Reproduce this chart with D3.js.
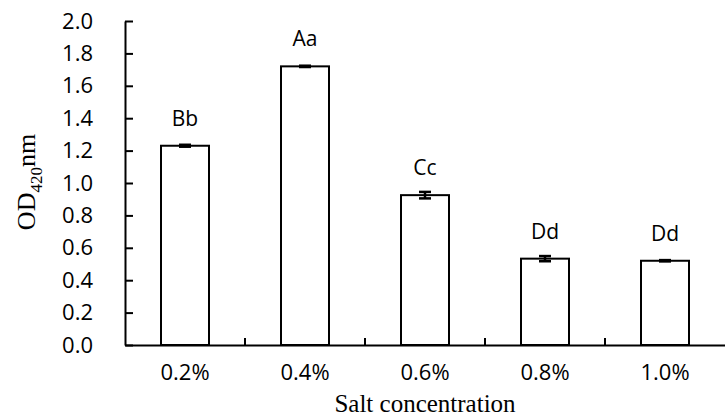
<!DOCTYPE html>
<head>
<meta charset="utf-8">
<title>OD420 by salt concentration</title>
<script src="https://cdn.jsdelivr.net/npm/d3@7/dist/d3.min.js"></script>
<style>
	body { margin: 0; background: #fff; }
	.domain, .tick line { stroke: #000; stroke-width: 2px; }
</style>
</head>
<body>
<script>
var width = 725;
var height = 420;
var margin = {top: 21, bottom: 75, left: 125, right: 0};

// data
var concentrations = ["0.2%", "0.4%", "0.6%", "0.8%", "1.0%"];
var odValues = [1.23, 1.72, 0.925, 0.533, 0.52];
var odErrors = [0.006, 0.004, 0.02, 0.016, 0.004];
var letters = ["Bb", "Aa", "Cc", "Dd", "Dd"];
var yTicks = [0, 0.2, 0.4, 0.6, 0.8, 1.0, 1.2, 1.4, 1.6, 1.8, 2.0];

var dataset = concentrations.map(function(c, i) {
	return {cat: c, val: odValues[i], err: odErrors[i], sig: letters[i]};
});

var svg = d3.select("body").append("svg")
	.attr("width", width)
	.attr("height", height);

var x = d3.scaleBand().domain(concentrations)
	.range([margin.left, width - margin.right])
	.paddingInner(0.6).paddingOuter(0.3);
var y = d3.scaleLinear().domain([0, 2]).range([height - margin.bottom, margin.top]);

// y axis, ticks pointing inward
var yAxis = svg.append("g")
	.attr("transform", "translate(" + margin.left + ",0)")
	.call(d3.axisLeft(y).tickValues(yTicks).tickSizeInner(-8).tickSizeOuter(0).tickPadding(32)
		.tickFormat(d3.format(".1f")));
yAxis.selectAll(".tick text")
	.style("font-family", "'Open Sans', sans-serif")
	.style("font-size", "22px")
	.attr("fill", "#000");

// x axis line with category labels
var xAxis = svg.append("g")
	.attr("transform", "translate(0," + y(0) + ")")
	.call(d3.axisBottom(x).tickSize(0).tickPadding(19));
xAxis.selectAll(".tick line").remove();
xAxis.selectAll(".tick text")
	.style("font-family", "'Open Sans', sans-serif")
	.style("font-size", "22px")
	.attr("fill", "#000");

// separator ticks between categories
var step = x.step();
var seps = concentrations.slice(1).map(function(c) { return x(c) - step * x.paddingInner() / 2; });
svg.selectAll(".sep").data(seps).enter().append("line")
	.attr("x1", function(d) { return d; })
	.attr("x2", function(d) { return d; })
	.attr("y1", y(0))
	.attr("y2", y(0) - 7)
	.attr("stroke", "#000")
	.attr("stroke-width", 2);

// bars
svg.selectAll(".bar").data(dataset).enter().append("rect")
	.attr("x", function(d) { return x(d.cat); })
	.attr("y", function(d) { return y(d.val); })
	.attr("width", x.bandwidth())
	.attr("height", function(d) { return y(0) - y(d.val); })
	.attr("fill", "#fff")
	.attr("stroke", "#000")
	.attr("stroke-width", 2);

// error bars
var cap = 6;
var eb = svg.selectAll(".err").data(dataset).enter().append("g")
	.attr("stroke", "#000").attr("stroke-width", 2.5);
eb.append("line")
	.attr("x1", function(d) { return x(d.cat) + x.bandwidth() / 2; })
	.attr("x2", function(d) { return x(d.cat) + x.bandwidth() / 2; })
	.attr("y1", function(d) { return y(d.val + d.err); })
	.attr("y2", function(d) { return y(d.val - d.err); });
eb.append("line")
	.attr("x1", function(d) { return x(d.cat) + x.bandwidth() / 2 - cap; })
	.attr("x2", function(d) { return x(d.cat) + x.bandwidth() / 2 + cap; })
	.attr("y1", function(d) { return y(d.val + d.err); })
	.attr("y2", function(d) { return y(d.val + d.err); });
eb.append("line")
	.attr("x1", function(d) { return x(d.cat) + x.bandwidth() / 2 - cap; })
	.attr("x2", function(d) { return x(d.cat) + x.bandwidth() / 2 + cap; })
	.attr("y1", function(d) { return y(d.val - d.err); })
	.attr("y2", function(d) { return y(d.val - d.err); });

// significance letters
svg.selectAll(".sig").data(dataset).enter().append("text")
	.attr("x", function(d) { return x(d.cat) + x.bandwidth() / 2; })
	.attr("y", function(d) { return y(d.val) - 20; })
	.attr("text-anchor", "middle")
	.style("font", "21px 'Open Sans', sans-serif")
	.text(function(d) { return d.sig; });

// axis titles
svg.append("text")
	.attr("x", (margin.left + width - margin.right) / 2)
	.attr("y", 412)
	.attr("text-anchor", "middle")
	.style("font", "25px 'Liberation Serif', serif")
	.text("Salt concentration");

var yt = svg.append("text")
	.attr("transform", "translate(35,182) rotate(-90)")
	.attr("text-anchor", "middle")
	.style("font", "26px 'Liberation Serif', serif");
yt.append("tspan").text("OD");
yt.append("tspan").attr("dy", 7).style("font-size", "17px").text("420");
yt.append("tspan").attr("dy", -7).text("nm");
</script>
</body>
